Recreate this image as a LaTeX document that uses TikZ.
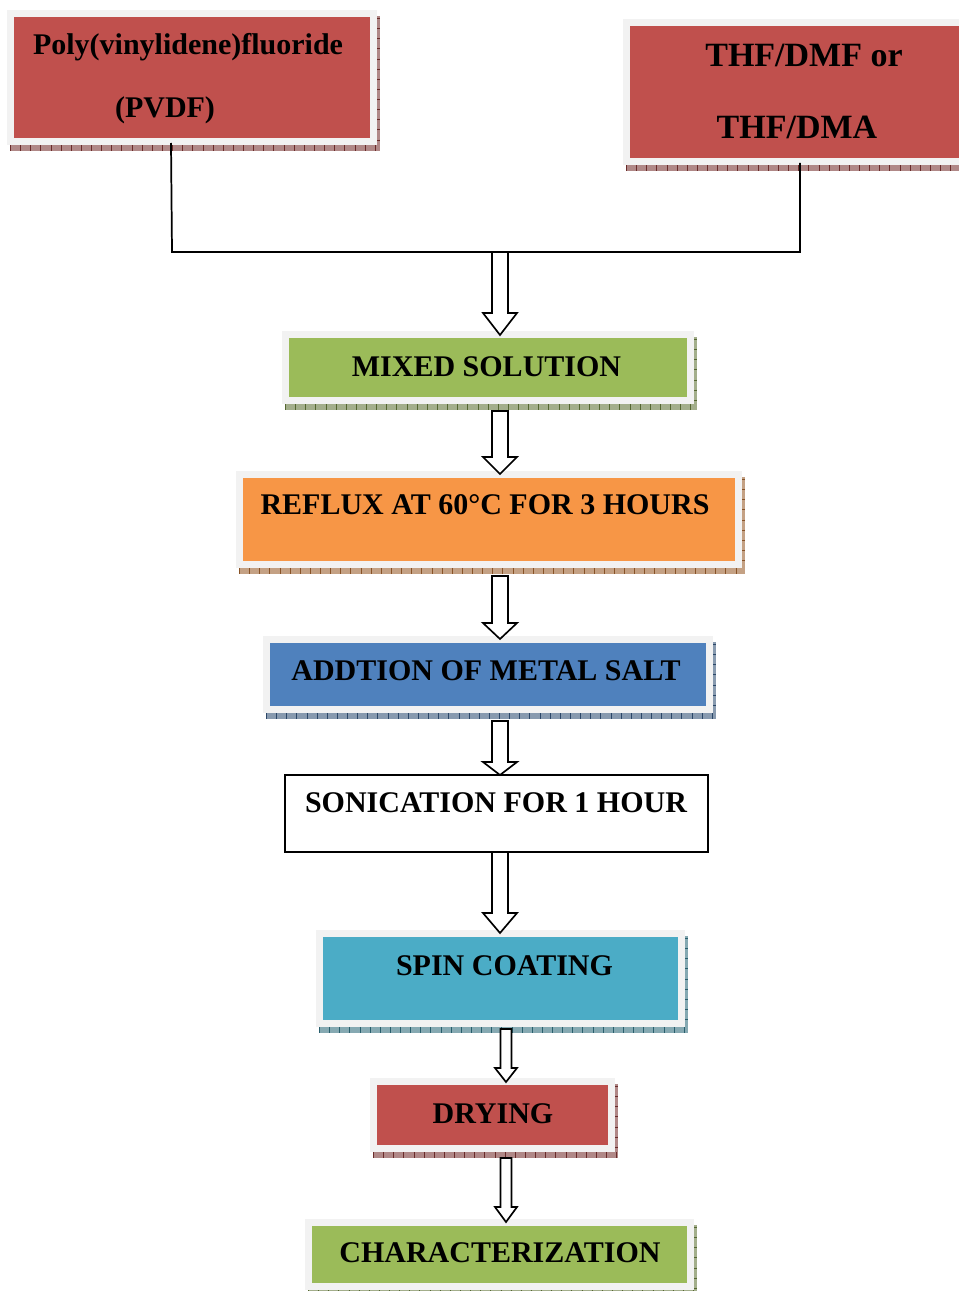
\documentclass[tikz,border=0pt]{standalone}
\usepackage{fontspec}
\setmainfont{Liberation Serif}
\definecolor{cred}{HTML}{C0504D}
\definecolor{cgreen}{HTML}{9BBB59}
\definecolor{corange}{HTML}{F79646}
\definecolor{cblue}{HTML}{4F81BD}
\definecolor{ccyan}{HTML}{4BACC6}
\definecolor{framegray}{HTML}{F2F2F2}
\tikzset{
  labeltext/.style={font=\bfseries\fontsize{22.5}{27}\selectfont, inner sep=0pt, anchor=base, text=black},
  bigtext/.style={font=\bfseries\fontsize{25.5}{30}\selectfont, inner sep=0pt, anchor=base, text=black},
  link/.style={line width=1.3pt, draw=black},
  blockarrow/.style={draw=black, fill=white, line width=1.25pt, line join=miter},
  plainbox/.style={draw=black, fill=white, line width=1.3pt},
}
% #1 x1, #2 y1, #3 x2, #4 y2, #5 fill colour
\newcommand\flowbox[5]{%
  \fill[#5!45!gray!80] ({#1+3},{#2+6}) rectangle ({#3+3},{#4+6});
  \draw[#5!55!black, line width=4.5pt, dash pattern=on 0.6pt off 7pt] ({#1+3},{#4+3}) -- ({#3+3},{#4+3});
  \draw[#5!55!black, line width=2.2pt, dash pattern=on 0.6pt off 7pt] ({#3+1.5},{#2+8}) -- ({#3+1.5},{#4});
  \fill[framegray] (#1,#2) rectangle (#3,#4);
  \fill[#5] ({#1+7},{#2+7}) rectangle ({#3-7},{#4-7});
}
% #1 x, #2 top, #3 head start, #4 tip, #5 half shaft, #6 half head
\newcommand\blockarr[6]{%
  \draw[blockarrow] ({#1-#5},#2) -- ({#1+#5},#2) -- ({#1+#5},#3) -- ({#1+#6},#3)
    -- (#1,#4) -- ({#1-#6},#3) -- ({#1-#5},#3) -- cycle;
}
\begin{document}
\begin{tikzpicture}[x=0.75pt, y=-0.75pt]
\useasboundingbox (0,0) rectangle (959,1291);

% boxes
\flowbox{7}{10}{377}{145}{cred}
\flowbox{623}{19}{990}{165}{cred}
\flowbox{282}{331}{694}{404}{cgreen}
\flowbox{236}{471}{742}{568}{corange}
\flowbox{263}{636}{713}{713}{cblue}
\draw[plainbox] (285,775) rectangle (708,852);
\flowbox{316}{930}{685}{1027}{ccyan}
\flowbox{370}{1078}{615}{1152}{cred}
\flowbox{305}{1219}{694}{1290}{cgreen}

% texts
\node[labeltext] (pvdf1) at (188,55) {Poly(vinylidene)fluoride};
\node[labeltext] (pvdf2) at (165,118) {(PVDF)};
\node[bigtext] (thf1) at (804,67) {THF/DMF or};
\node[bigtext] (thf2) at (797,139) {THF/DMA};
\node[labeltext] (mix) at (486.5,376) {MIXED SOLUTION};
\node[labeltext] (reflux) at (485,514) {REFLUX AT 60°C FOR 3 HOURS};
\node[labeltext] (metal) at (486,680) {ADDTION OF METAL SALT};
\node[labeltext] (sonic) at (496,812) {SONICATION FOR 1 HOUR};
\node[labeltext] (spin) at (504.5,975) {SPIN COATING};
\node[labeltext] (dry) at (493,1123) {DRYING};
\node[labeltext] (charact) at (500,1262) {CHARACTERIZATION};

% joining lines
\coordinate (pvdfout) at (171,143);
\coordinate (thfout) at (800,163);
\coordinate (joinL) at (172,252);
\coordinate (joinR) at (800,252);
\draw[link] (pvdfout) -- (joinL) -- (joinR) -- (thfout);

% block arrows
\blockarr{500}{252}{313}{335}{8}{17}
\blockarr{500}{411}{457}{474}{8}{17}
\blockarr{500}{576}{623}{639}{8}{17}
\blockarr{500}{721}{762}{775}{8}{17}
\blockarr{500}{852}{913}{933}{8}{17}
\blockarr{506}{1029}{1068}{1082}{5.5}{11}
\blockarr{506}{1158}{1207}{1222}{5.5}{11}
\end{tikzpicture}
\end{document}
